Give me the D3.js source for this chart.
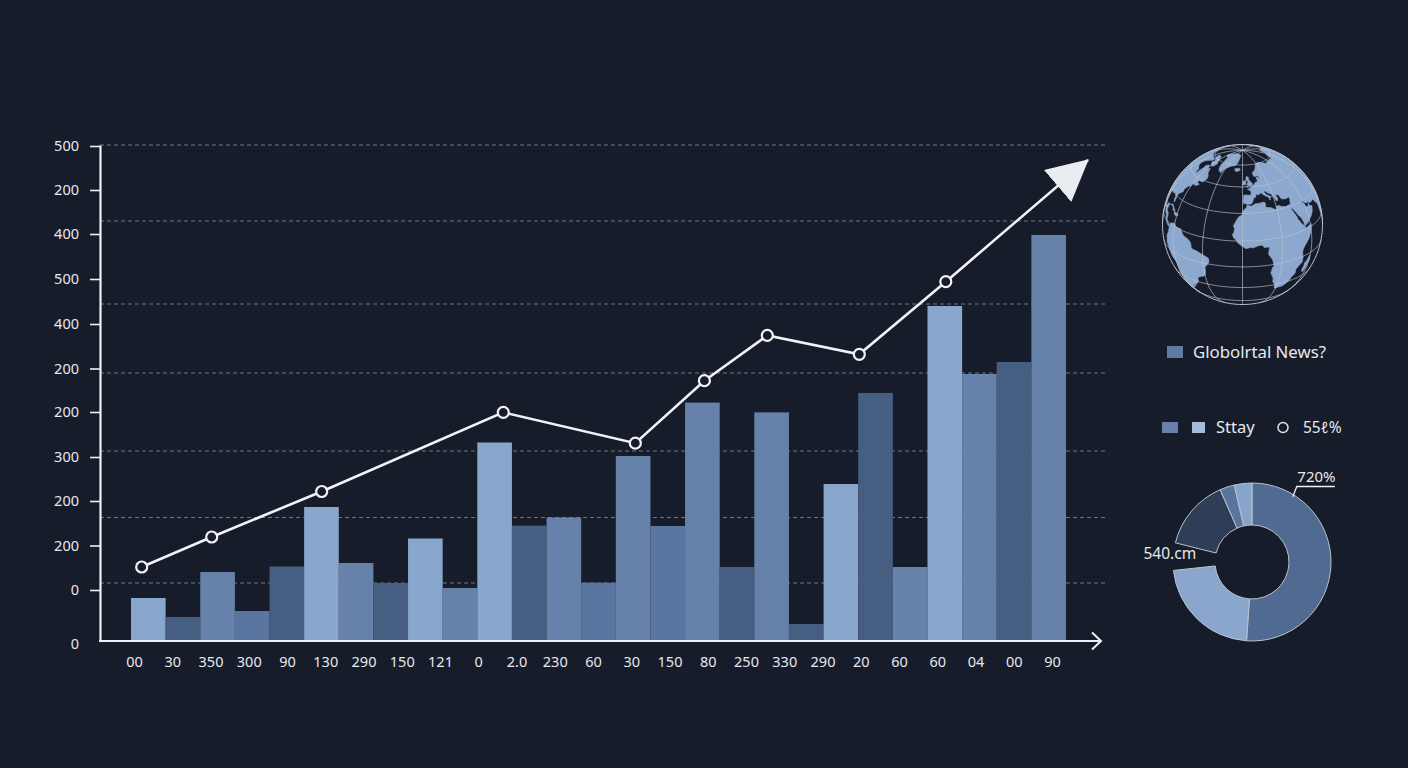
<!DOCTYPE html>
<html><head><meta charset="utf-8">
<script src="https://cdn.jsdelivr.net/npm/d3@7"></script>
<style>
html,body{margin:0;padding:0;background:#171c2a;}
svg{display:block;}
text{font-family:"Noto Sans","Open Sans",sans-serif;fill:#e6e9ef;}
</style></head><body>
<svg id="chart" width="1408" height="768"></svg>
<script>
// ---------------- data ----------------
const barValues = [43,24,69,30,74.5,134,78,58,102.5,53,198.5,115.4,123.5,58.3,185,115,238.4,74,228.6,17,157,248,74,335,267,279,406];
const barShades = ["light","dark","mid","mid2","dark","light","mid","dark","light","mid","light","dark","mid","mid2","mid","mid2","mid","dark","mid","dark","light","dark","mid","light","mid","dark","mid"];
const xTickLabels = ["00","30","350","300","90","130","290","150","121","0","2.0","230","60","30","150","80","250","330","290","20","60","60","04","00","90"];
const yTickValues = [0,51,95.5,140,184,229,272.5,317,362,407,451,495];
const yTickLabels = ["0","0","200","200","300","200","200","400","500","400","200","500"];
const gridValues = [58,123.5,190,268,337,420,496];
const trendX = [41.7,111.7,221.7,403.3,535.3,604.4,667.3,759.3,845.8];
const trendY = [74,104,149.5,228.6,197.8,260.3,305.6,286.7,359.3];
const trendArrowEnd = [988,481];
const donutNames = ["A","B","gap","C","D","E"];
const donutValues = [51.1,22.2,5.6,14.5,3.0,3.6];
const legendMain = "Globolrtal News?";
const legendSecond = "Sttay";
const legendThird = "55ℓ%";
const donutLabelTop = "720%";
const donutLabelLeft = "540.cm";

// simplified land outlines (lon, lat)
const landEurasia = [[-9,37],[-9.5,39],[-8.8,42],[-9,43.2],[-8,43.7],[-4,43.4],[-1.5,43.4],[-1.2,46],[-2.5,47.3],[-4.7,48],[-1.5,48.7],[-1.5,49.6],[1.5,50],[1.6,51],[3.5,51.4],[4.5,52.5],[5.5,53.4],[8.5,53.6],[8.5,55.5],[8,57],[10.5,57.7],[10.5,56.5],[12.5,56],[12.9,55.4],[12.5,56.5],[11,58.8],[8,58.1],[5.6,58.5],[5,60],[5,61.9],[7,62.8],[10,64],[13,66],[15,68.2],[18,69.8],[22,70.5],[26,71],[30,70],[33,69.4],[41,67],[44,68.5],[53,68.5],[60,69],[68,68.2],[72,72.5],[80,72.5],[88,75.5],[100,77],[112,74],[128,72],[140,72.5],[160,70],[180,69],[180,65],[176,62.5],[165,60],[163,56],[156,51],[156,57],[142,59],[137,54],[141,52],[140,47],[135,43],[130,42.5],[129.5,35],[126,34.5],[126,37.5],[124.5,39.5],[121,39],[119,37],[121.5,36.5],[122,31],[120,26],[114,22],[108,21.5],[106,19],[109,12],[105,8.8],[103,11],[100.5,13.5],[100,9],[103.5,1.5],[101,3],[98.3,8],[98.5,12],[97.5,17],[94,16],[94,19],[91.5,22.5],[89,21.8],[87,21.5],[85,19.5],[80.2,15],[80,10],[77.5,8],[76,10],[73,16],[72.7,21],[70,21],[68,23.5],[66.5,25.4],[61.5,25.2],[57.5,25.7],[56.5,27],[54,26.7],[51.5,27.9],[50,30],[48,30],[48,29.5],[50,26.5],[51.5,24.5],[54,24.2],[56,26],[56.5,24],[59.8,22.5],[58.5,20.5],[57,19],[55,17.5],[52,16],[48,14],[45,13],[43.3,12.7],[42.7,15.5],[41,19.5],[39,21.5],[37.5,24],[35,28],[34.5,29.5],[34.4,31.4],[35,33],[36,34.7],[36,36.8],[32.5,36.1],[30.5,36.5],[28,36.7],[27,37.8],[26.5,39.5],[26.2,40.3],[24,40.8],[23,40.3],[24,38],[23,36.5],[21.5,36.8],[21,38.5],[19.5,40.5],[19.3,42],[16,43.5],[13.7,45.3],[12.3,45.4],[12.4,44.2],[14,42.5],[16,41.4],[18.5,40.2],[16.9,40.4],[16.5,39],[16,38],[15.7,38.2],[15.6,40],[12.5,41.8],[10.5,43],[8.8,44.4],[7.5,43.8],[6,43.1],[4,43.5],[3,43],[3.2,41.9],[0.8,41],[0,39.5],[-0.5,38.5],[-2,36.7],[-4.5,36.6],[-5.6,36],[-6.4,36.8],[-7.5,37.2],[-9,37]];
const landAfrica = [[-5.9,35.8],[-2,35.1],[1,36.5],[5,36.8],[10,37.3],[11,35.5],[10,34],[11,33.2],[15.2,32.3],[19,30.3],[20,31],[20,32.8],[23,32.7],[25,31.7],[29,30.9],[32.3,31.2],[34.2,31.3],[34.9,29.5],[33.8,27.5],[35.5,24],[37,21],[37.4,18.7],[38.5,18],[39.7,15.5],[41.5,14],[43.3,12.3],[44,10.5],[47,11.2],[51.2,11.8],[51,10.5],[49.8,7],[48,4.5],[46,2],[43,-0.5],[41.5,-1.8],[40,-3.5],[39.2,-6],[39.5,-8],[40.5,-10.5],[40.5,-15],[37,-17.5],[35,-19.5],[35.5,-22],[35.5,-24],[32.9,-26],[32.5,-28.7],[30.5,-31],[27.5,-33.5],[25.5,-34],[22,-34.2],[20,-34.8],[18.4,-34],[18,-32.3],[17.2,-29],[15,-26.5],[14.5,-22.5],[11.8,-17.3],[12.5,-13],[13.7,-11],[12.3,-6],[9,-1],[9.5,2.5],[9.8,3.8],[8.5,4.5],[6,4.3],[4.5,6.3],[1.5,6.2],[-2,4.8],[-4,5.2],[-7.5,4.4],[-11,6.8],[-13.2,8.5],[-15,11],[-16.8,12.5],[-17.5,14.7],[-16.5,16],[-16,19],[-17,21],[-15,24.5],[-13,27.5],[-10,29],[-9.8,31.5],[-6.8,34],[-5.9,35.8]];
const landMadagascar = [[49.3,-12],[50.4,-15.5],[49.5,-17.5],[48.5,-21],[47.2,-25],[45.3,-25.5],[43.7,-23.5],[43.5,-21.5],[44.4,-19.5],[44.3,-16.8],[46.3,-15.8],[48,-13.5],[49.3,-12]];
const landNorthAmerica = [[-168,65.6],[-162,67],[-164,68.9],[-157,71],[-150,70.4],[-141,69.6],[-130,70],[-121,69.5],[-114,68.3],[-105,68.5],[-98,67.8],[-94,69],[-88,68.4],[-82,69.2],[-81,66.5],[-86,65],[-88,64],[-93,62],[-94.5,59],[-92.5,57],[-88,56],[-82.5,55],[-82,52.5],[-79,51.5],[-78.5,54.5],[-77,58],[-78,60.5],[-74,62.3],[-70,61],[-70,59],[-65,60.5],[-61.5,56.5],[-57.5,54.5],[-56,52],[-59,48.5],[-64.5,48.5],[-65,46.5],[-61,46],[-63,44.7],[-66,43.8],[-67,44.8],[-70,43.5],[-70.5,41.8],[-74,40.6],[-74.2,39.3],[-75.5,38.5],[-76,36.9],[-75.5,35.2],[-77,34.5],[-79,33],[-81,31.5],[-80.5,28.5],[-80,26.5],[-80.5,25.2],[-81.5,25.8],[-82.6,27.5],[-82.8,29],[-84,30],[-86,30.4],[-88,30.4],[-89.5,30],[-90,29.2],[-91.5,29.5],[-94,29.6],[-96.5,28.2],[-97.4,27],[-97.5,24.5],[-97.8,22],[-97,20],[-95,18.5],[-92,18.6],[-90.5,19.8],[-90,21.2],[-87,21.5],[-87.5,19.5],[-88.2,17.5],[-88.5,16],[-86,15.8],[-84,15.2],[-83.4,13],[-83.7,11],[-82.3,9.3],[-80,9.2],[-78,8.8],[-77.5,8.3],[-78.5,7.6],[-80,7.4],[-81.7,8],[-83.5,8.5],[-85.7,10],[-85.8,11.2],[-87.5,13],[-91.5,14],[-94,16],[-96.5,15.7],[-99.5,16.7],[-102,17.9],[-105.5,20.5],[-105.4,22.5],[-107.5,24.5],[-109,26.3],[-111,28],[-112.8,30.5],[-114.7,31.7],[-114.3,30],[-112.5,27.5],[-110,24],[-109.8,23],[-112,24.8],[-114.2,28],[-115.5,30.4],[-117.1,32.5],[-118.5,34],[-120.6,34.6],[-122,36.8],[-123,38],[-124,40.3],[-124.3,43],[-124,46.2],[-124.7,48.4],[-123,49],[-125,50.5],[-128,52.5],[-130.5,54.5],[-133,57],[-136,58.3],[-140,59.8],[-146,60.5],[-150,61],[-152,59.5],[-154,58],[-157,57],[-160,55.8],[-163.5,55],[-158,58.5],[-162,58.6],[-164.5,60],[-165.5,62],[-164,63.5],[-161,64.5],[-166,64.6],[-168,65.6]];
const landBaffin = [[-80,73.5],[-72,71.5],[-67,69],[-62,66.5],[-64,63.5],[-68,62.5],[-72,64],[-77,65.5],[-74,67.5],[-81,69.5],[-88,70.5],[-90,73],[-80,73.5]];
const landGreenland = [[-73,78],[-66,80.8],[-58,82],[-40,83.5],[-25,83],[-18,81.5],[-19,77],[-20,74],[-22,71],[-25,69],[-32,68],[-38,65.5],[-41,63.5],[-43,60],[-46,61],[-49,62],[-51.5,64.5],[-53,66.5],[-54,69],[-51,70],[-55,71.5],[-58,75.5],[-65,76.5],[-73,78]];
const landIceland = [[-24,65.5],[-21,66.3],[-16,66.5],[-13.5,65.2],[-15,64.3],[-18.5,63.4],[-22.5,63.8],[-22,64.8],[-24,65.5]];
const landBritain = [[-5.7,50],[-3,50.6],[0,50.8],[1.4,51.2],[1.7,52.7],[0.3,53.4],[-0.5,54.5],[-1.6,55.6],[-2.5,56.3],[-1.8,57.6],[-3.3,58.6],[-5,58.6],[-5.5,57.5],[-5.8,56.3],[-5,55],[-3.3,54.8],[-3,53.4],[-4.6,53.2],[-4.2,52.3],[-5.3,51.7],[-3,51.5],[-5.7,50]];
const landIreland = [[-6,52],[-6.2,53.5],[-5.7,54.6],[-7.3,55.3],[-8.5,55],[-10,54.2],[-9.5,53],[-10.3,52],[-9.3,51.5],[-8,51.8],[-6,52]];
const landCuba = [[-85,21.8],[-82,23.2],[-80,23.1],[-77,21.7],[-74.2,20.2],[-77.5,19.8],[-78.5,21.5],[-81.5,22.2],[-85,21.8]];
const landHispaniola = [[-74.4,19.8],[-72,19.9],[-69.5,19.5],[-68.3,18.6],[-70,18.2],[-71.5,17.6],[-74.4,18.4],[-74.4,19.8]];
const landSouthAmerica = [[-77.3,8.5],[-76,9.5],[-75.5,10.7],[-74,11.2],[-72,11.8],[-71.3,12.4],[-71.5,10.8],[-70,12.2],[-68,10.5],[-64,10.6],[-62,10.8],[-61,9.5],[-60,8.5],[-58,6.8],[-55,6],[-52,4.8],[-51,4],[-50,1.8],[-50,0],[-48.5,-1],[-45,-1.5],[-41,-3],[-38.5,-3.8],[-35.3,-5.3],[-35,-8],[-36.5,-10.5],[-38.8,-13.5],[-39,-17.7],[-40,-20.5],[-41,-22],[-44,-23],[-47,-24.5],[-48.5,-26.5],[-48.7,-28.5],[-50.5,-31],[-52.2,-32.5],[-53.5,-34],[-55,-35],[-57,-35],[-57.5,-36.3],[-57.5,-38.2],[-62,-38.8],[-62.2,-40.5],[-65,-41],[-64.5,-42.5],[-65.5,-45],[-67.5,-46.5],[-66,-47.5],[-68,-50],[-69,-51.6],[-68.5,-53],[-67,-54.8],[-69,-55.5],[-72,-54],[-74,-52],[-75.5,-49],[-74,-45],[-73.5,-42],[-73.7,-38],[-72.5,-35],[-71.5,-32],[-71.4,-28],[-70.5,-25],[-70.2,-20],[-71,-17.7],[-75,-15.3],[-76.3,-13.5],[-78,-10.5],[-79.5,-8],[-81.2,-6],[-81.1,-4.2],[-80,-3],[-80.9,-1.3],[-80,0.5],[-79,1.7],[-77.8,3.5],[-77.4,6.5],[-77.8,7.5],[-77.3,8.5]];
const landShapes = [landEurasia,landAfrica,landMadagascar,landNorthAmerica,landBaffin,landGreenland,landIceland,landBritain,landIreland,landCuba,landHispaniola,landSouthAmerica];
const meridianLons = [-190,-160,-130,-100,-70,-40,-10,20,50,80,110,140];
const parallelLats = [-70,-50,-30,-10,10,30,50,70];

// ---------------- chart ----------------
const svg = d3.select("#chart");
const BG = "#171c2a";
svg.append("rect").attr("width",1408).attr("height",768).attr("fill",BG);

const y = d3.scaleLinear().domain([0,496]).range([641,145]);
const xLin = d3.scaleLinear().domain([0,1000]).range([100,1100]);
const xBand = d3.scaleBand().domain(d3.range(barValues.length)).range([131,1066]).padding(0);
const xPoint = d3.scalePoint().domain(d3.range(xTickLabels.length)).range([134,1052]);
const shade = d3.scaleOrdinal().domain(["light","mid","mid2","dark"]).range(["#89a6cc","#6681aa","#5a75a0","#465e82"]);

// grid
svg.append("g").selectAll("line").data(gridValues).join("line")
  .attr("x1",xLin(0)).attr("x2",xLin(1005))
  .attr("y1",d=>y(d)).attr("y2",d=>y(d))
  .attr("stroke","#6f7787").attr("stroke-width",1).attr("stroke-dasharray","4 3");

// bars
svg.append("g").selectAll("rect").data(barValues).join("rect")
  .attr("x",(d,i)=>xBand(i)).attr("width",xBand.bandwidth())
  .attr("y",d=>y(d)).attr("height",d=>y(0)-y(d))
  .attr("fill",(d,i)=>shade(barShades[i]));

// y axis
const yAxis = svg.append("g").attr("transform",`translate(${xLin(0)},0)`)
  .call(d3.axisLeft(y).tickValues(yTickValues).tickFormat((d,i)=>yTickLabels[i]).tickSize(10).tickPadding(11).tickSizeOuter(0));
yAxis.select(".domain").attr("stroke","#eef1f5").attr("stroke-width",2.2);
yAxis.selectAll(".tick line").attr("stroke","#eef1f5").attr("stroke-width",1.6).attr("opacity",d=>d===0?0:1);
yAxis.selectAll(".tick text").attr("font-size",14.5).attr("fill","#e8ebf0").attr("font-family","'Noto Sans',sans-serif");
yAxis.selectAll(".tick").filter(d=>d===0).select("text").attr("dy","0.5em");

// x axis line with chevron
const xEnd = xLin(1001), y0 = y(0);
svg.append("line").attr("x1",xLin(0)-1).attr("x2",xEnd).attr("y1",y0).attr("y2",y0)
  .attr("stroke","#eef1f5").attr("stroke-width",2.2);
svg.append("path").attr("d",`M${xEnd-9},${y0-8.5}L${xEnd},${y0}L${xEnd-9},${y0+8.5}`)
  .attr("fill","none").attr("stroke","#eef1f5").attr("stroke-width",2);

const xAxis = svg.append("g").attr("transform",`translate(0,${y0})`)
  .call(d3.axisBottom(xPoint).tickSize(0).tickPadding(16).tickFormat((d,i)=>xTickLabels[i]));
xAxis.select(".domain").remove();
xAxis.selectAll(".tick text").attr("font-size",14.5).attr("fill","#e8ebf0").attr("font-family","'Noto Sans',sans-serif");

// trend line with arrow
const defs = svg.append("defs");
defs.append("marker").attr("id","arrowHead").attr("markerUnits","userSpaceOnUse")
  .attr("viewBox","0 0 41 42").attr("markerWidth",41).attr("markerHeight",42)
  .attr("refX",40).attr("refY",21).attr("orient","auto")
  .append("path").attr("d","M0,0L41,21L0,42Z").attr("fill","#e9edf1");

const trendPts = trendX.map((v,i)=>[v,trendY[i]]);
const lineGen = d3.line().x(d=>xLin(d[0])).y(d=>y(d[1]));
svg.append("path").datum(trendPts.concat([trendArrowEnd]))
  .attr("d",lineGen).attr("fill","none").attr("stroke","#f1f3f6").attr("stroke-width",2.6)
  .attr("marker-end","url(#arrowHead)");
svg.append("g").selectAll("circle").data(trendPts).join("circle")
  .attr("cx",d=>xLin(d[0])).attr("cy",d=>y(d[1])).attr("r",5.5)
  .attr("fill",BG).attr("stroke","#f1f3f6").attr("stroke-width",2.2);

// ---------------- globe ----------------
const proj = d3.geoOrthographic().scale(80).translate([1242.5,224.5]).rotate([10,-22]).clipAngle(90);
const gpath = d3.geoPath(proj);
const globe = svg.append("g");
const landFeatures = landShapes.map(ring=>{
  let f = {type:"Feature",geometry:{type:"Polygon",coordinates:[ring]}};
  if (d3.geoArea(f) > 2*Math.PI) f = {type:"Feature",geometry:{type:"Polygon",coordinates:[ring.slice().reverse()]}};
  return f;
});
globe.append("g").selectAll("path").data(landFeatures).join("path")
  .attr("d",gpath).attr("fill","#8ca8ce").attr("stroke","#8ca8ce").attr("stroke-width",0.6);
const gratLines = [];
meridianLons.forEach(lon=>gratLines.push(d3.range(-90,90.1,2).map(lat=>[lon,lat])));
parallelLats.forEach(lat=>gratLines.push(d3.range(-180,180.1,2).map(lon=>[lon,lat])));
globe.append("path").datum({type:"MultiLineString",coordinates:gratLines})
  .attr("d",gpath).attr("fill","none").attr("stroke","#b9c1cd").attr("stroke-width",0.8).attr("opacity",0.85);
globe.append("path").datum({type:"Sphere"}).attr("d",gpath)
  .attr("fill","none").attr("stroke","#b9c1cd").attr("stroke-width",1);

// ---------------- legend ----------------
const lg = svg.append("g");
lg.append("rect").attr("x",1167).attr("y",346).attr("width",16).attr("height",12).attr("fill","#5f7aa3");
lg.append("text").attr("x",1193).attr("y",358).attr("font-size",16.8).text(legendMain);
lg.append("rect").attr("x",1162).attr("y",422).attr("width",16).attr("height",11).attr("fill","#6681aa");
lg.append("rect").attr("x",1192).attr("y",422).attr("width",13).attr("height",11).attr("fill","#a3bbdd");
lg.append("text").attr("x",1216).attr("y",433).attr("font-size",16.5).text(legendSecond);
lg.append("circle").attr("cx",1283).attr("cy",427.5).attr("r",5).attr("fill","none").attr("stroke","#dfe4ea").attr("stroke-width",1.5);
lg.append("text").attr("x",1303).attr("y",433).attr("font-size",15.5).text(legendThird);

// ---------------- donut ----------------
const donutColor = d3.scaleOrdinal().domain(donutNames).range(["#506a92","#8aa6cc","none","#2f3e56","#5a74a0","#88a4ca"]);
const pie = d3.pie().sort(null).value(d=>d)(donutValues);
const arc = d3.arc().innerRadius(37).outerRadius(79);
const dg = svg.append("g").attr("transform","translate(1252,562)");
dg.selectAll("path").data(pie).join("path")
  .attr("d",arc)
  .attr("fill",(d,i)=>donutColor(donutNames[i]))
  .attr("stroke",(d,i)=>donutNames[i]==="gap"?"none":"#b9c3d0")
  .attr("stroke-width",1);
// top label with leader
const a0 = pie[0].startAngle + (pie[0].endAngle-pie[0].startAngle)*0.174;
const p0 = [77*Math.sin(a0), -77*Math.cos(a0)];
const p1 = [p0[0]+4, -75.5];
dg.append("path").attr("d",`M${p0[0]},${p0[1]}L${p1[0]},${p1[1]}L${p1[0]+38},${p1[1]}`)
  .attr("fill","none").attr("stroke","#eef1f5").attr("stroke-width",1.3);
dg.append("text").attr("x",p1[0]+0.5).attr("y",p1[1]-5).attr("font-size",15).text(donutLabelTop);
// left label at gap centroid
const gc = arc.centroid(pie[2]);
dg.append("text").attr("x",gc[0]+2).attr("y",gc[1]+0.5).attr("text-anchor","end").attr("font-size",15.5).text(donutLabelLeft);
</script>
</body></html>
